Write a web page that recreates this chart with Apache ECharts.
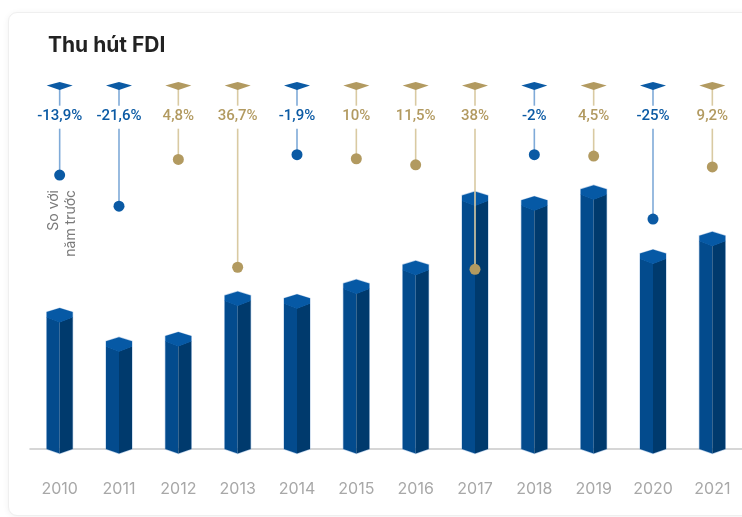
<!DOCTYPE html>
<html>
<head>
<meta charset="utf-8">
<script src="https://cdn.jsdelivr.net/npm/echarts@6/dist/echarts.min.js"></script>
<style>
    html, body { margin: 0; padding: 0; background: #fff; }
    #card {
        position: absolute; left: 8px; top: 12px; width: 770px; height: 502px;
        background: #fff; border: 1px solid #efefef; border-radius: 9px;
        box-shadow: 0 1px 6px rgba(0, 0, 0, 0.06);
    }
    #chart { position: absolute; left: 0; top: 0; width: 742px; height: 517px; }
</style>
</head>
<body>
<div id="card"></div>
<div id="chart"></div>
<script>
    // FDI dang ky (ty USD) theo nam
    var years = ['2010', '2011', '2012', '2013', '2014', '2015', '2016', '2017', '2018', '2019', '2020', '2021'];
    var fdiValues = [19.89, 15.6, 16.35, 22.35, 21.92, 24.12, 26.89, 37.1, 36.37, 38.02, 28.53, 31.15];
    // tang truong so voi nam truoc (%)
    var changePct = [-13.9, -21.6, 4.8, 36.7, -1.9, 10, 11.5, 38, -2, 4.5, -25, 9.2];
    // do cao cua cham tron (theo don vi truc)
    var dotLevels = [40.4, 35.8, 42.7, 26.8, 43.4, 42.8, 41.9, 26.5, 43.4, 43.2, 33.9, 41.6];

    var BLUE = '#0b5aa4', BLUE_LINE = '#7faad8';
    var GOLD = '#b29a60', GOLD_LINE = '#d9caa2';
    var MARK_LEVEL = 53.6, LABEL_LEVEL = 49.0;

    function fmtPct(v) {
        return String(v).replace('.', ',') + '%';
    }

    var chart = echarts.init(document.getElementById('chart'), null, {renderer: 'canvas'});

    // cot 3D
    function renderBar(params, api) {
        var top = api.coord([api.value(0), api.value(1)]);
        var base = api.coord([api.value(0), 0]);
        var c = top[0], h = 13;
        var t = top[1] - 6, b = base[1];
        return {
            type: 'group',
            children: [
                {type: 'polygon', shape: {points: [[c - h, t + 4], [c, t], [c + h, t + 4], [c + h, b], [c, b + 4.5], [c - h, b]]},
                    style: {fill: 'none', stroke: 'rgba(130,170,215,0.55)', lineWidth: 1.2}},
                {type: 'polygon', shape: {points: [[c - h, t + 9], [c, t + 14], [c, b + 4.5], [c - h, b]]},
                    style: {fill: '#034b8d'}},
                {type: 'polygon', shape: {points: [[c, t + 14], [c + h, t + 9], [c + h, b], [c, b + 4.5]]},
                    style: {fill: '#003a6d'}},
                {type: 'polygon', shape: {points: [[c, t], [c + h, t + 4], [c + h, t + 9.5], [c, t + 14.5], [c - h, t + 9.5], [c - h, t + 4]]},
                    style: {fill: '#0659a5'}}
            ]
        };
    }

    // chu thich phan tram
    function renderNote(params, api) {
        var idx = api.value(0);
        var pct = api.value(2);
        var m = api.coord([idx, MARK_LEVEL]);
        var l = api.coord([idx, LABEL_LEVEL]);
        var d = api.coord([idx, api.value(1)]);
        var c = m[0];
        var col = pct < 0 ? BLUE : GOLD;
        var lineCol = pct < 0 ? BLUE_LINE : GOLD_LINE;
        return {
            type: 'group',
            children: [
                {type: 'line', shape: {x1: c, y1: m[1] + 3, x2: c, y2: l[1] - 11}, style: {stroke: lineCol, lineWidth: 1.6}},
                {type: 'line', shape: {x1: c, y1: l[1] + 12, x2: c, y2: d[1]}, style: {stroke: lineCol, lineWidth: 1.6}},
                {type: 'polygon', shape: {points: [[c - 13, m[1]], [c, m[1] - 3.5], [c + 13, m[1]], [c, m[1] + 4.5]]},
                    style: {fill: col}},
                {type: 'circle', shape: {cx: c, cy: d[1], r: 5.5}, style: {fill: col}},
                {type: 'text', x: c, y: l[1], style: {text: fmtPct(pct), fill: col, font: '500 15px Roboto',
                        align: 'center', verticalAlign: 'middle'}}
            ]
        };
    }

    var barData = fdiValues.map(function (v, i) { return [i, v]; });
    var noteData = changePct.map(function (p, i) { return [i, dotLevels[i], p]; });

    var option = {
        animation: false,
        grid: {left: 30, right: -1, top: 76, bottom: 68},
        xAxis: {
            type: 'category',
            data: years,
            axisTick: {show: false},
            axisLine: {lineStyle: {color: '#c9c9c9', width: 1.5}},
            axisLabel: {color: '#a8a8a8', fontSize: 16, fontFamily: 'Inter', margin: 32}
        },
        yAxis: {
            type: 'value', min: 0, max: 55, show: false
        },
        graphic: [
            {type: 'text', left: 48, top: 35, style: {text: 'Thu hút FDI', fill: '#222', font: 'bold 21px Inter'}},
            {type: 'text', x: 62, y: 190, rotation: Math.PI / 2,
                style: {text: 'So với\nnăm trước', fill: '#7a7a7a', font: '14px Inter', lineHeight: 17,
                    align: 'right', verticalAlign: 'middle'}}
        ],
        series: [
            {type: 'custom', renderItem: renderBar, data: barData, z: 2},
            {type: 'custom', renderItem: renderNote, data: noteData, z: 3}
        ]
    };

    chart.setOption(option);
</script>
</body>
</html>
